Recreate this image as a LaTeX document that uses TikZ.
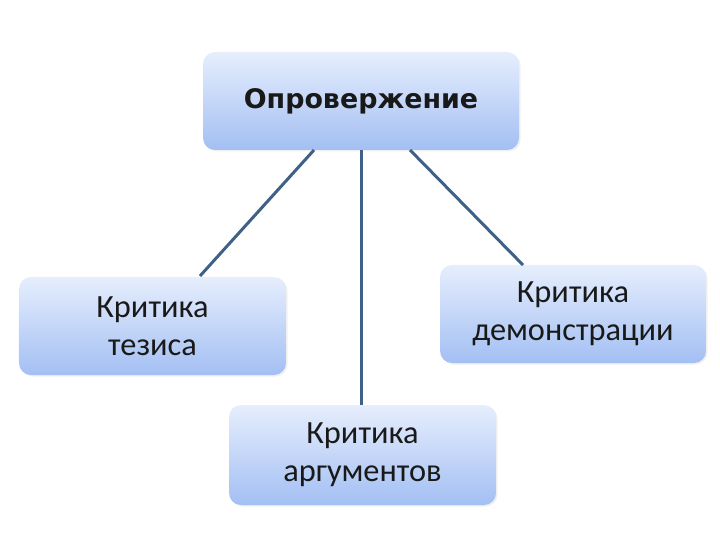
\documentclass[tikz,border=0pt]{standalone}
\usepackage{fontspec}
\setmainfont{Carlito}
\newfontfamily\titlefont{DejaVu Sans}
\usetikzlibrary{shadows}
\definecolor{boxtop}{HTML}{E6EEFD}
\definecolor{boxbot}{HTML}{A3BFF3}
\definecolor{linec}{HTML}{3F6188}
\begin{document}
\begin{tikzpicture}[x=1bp,y=-1bp,
  box/.style={rounded corners=12bp, top color=boxtop, bottom color=boxbot, draw=none,
    minimum width=#1, minimum height=98bp, inner sep=0pt, align=center,
    font=\fontsize{32.5}{38}\selectfont, text=black!90,
    drop shadow={opacity=0.12, shadow xshift=1.5bp, shadow yshift=-1.5bp}},
  link/.style={draw=linec, line width=3bp}]
\useasboundingbox (0,0) rectangle (720,540);
\node[box=316bp, font=\titlefont\bfseries\fontsize{27}{32}\selectfont] (top) at (361,101) {Опровержение};
\node[box=267bp] (left) at (152.5,326) {Критика\\тезиса};
\node[box=266bp] (right) at (573,314) {Критика\\демонстрации};
\node[box=267bp, minimum height=100bp] (bottom) at (362.5,455) {Критика\\аргументов};
\coordinate (t1) at (314,150);
\coordinate (t2) at (361,150);
\coordinate (t3) at (410,150);
\coordinate (l1) at (200,276);
\coordinate (r1) at (523,265);
\coordinate (b1) at (361,405);
\draw[link] (t1) -- (l1);
\draw[link] (t2) -- (b1);
\draw[link] (t3) -- (r1);
\end{tikzpicture}
\end{document}
